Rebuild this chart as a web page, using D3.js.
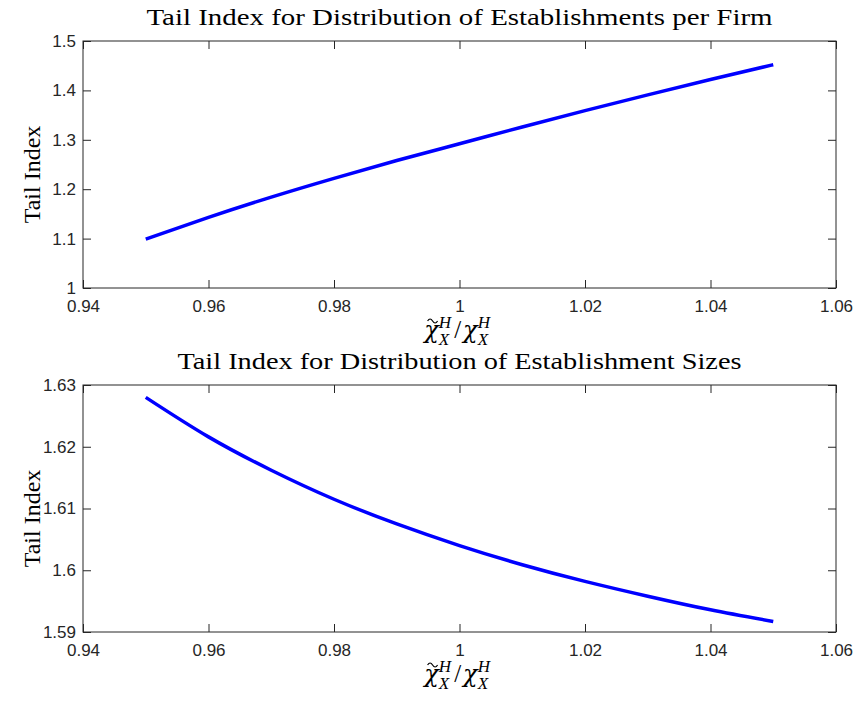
<!DOCTYPE html>
<html>
<head>
<meta charset="utf-8">
<script src="https://cdn.jsdelivr.net/npm/d3@7"></script>
<style>
  body { margin: 0; background: #fff; }
  svg { display: block; }
</style>
</head>
<body>
<svg id="chart"></svg>
<script>
(function() {

// ratio values on the x axis
const ratio = [0.95, 0.96, 0.97, 0.98, 0.99, 1.00, 1.01, 1.02, 1.03, 1.04, 1.05];

// tail index, establishments per firm
const tailFirm = [1.099, 1.143, 1.184, 1.222, 1.258, 1.292, 1.326, 1.359, 1.391, 1.422, 1.452];

// tail index, establishment sizes
const tailSize = [1.6280, 1.6216, 1.6162, 1.6115, 1.6075, 1.6040, 1.6009, 1.5982, 1.5958, 1.5936, 1.5917];

const xTicks = [0.94, 0.96, 0.98, 1, 1.02, 1.04, 1.06];
const yTicksFirm = [1, 1.1, 1.2, 1.3, 1.4, 1.5];
const yTicksSize = [1.59, 1.6, 1.61, 1.62, 1.63];

const titles = [
    "Tail Index for Distribution of Establishments per Firm",
    "Tail Index for Distribution of Establishment Sizes"
];

const W = 857, H = 701;
const axisColor = "#262626";
const serif = "'Liberation Serif', 'DejaVu Serif', serif";
const greek = "'DejaVu Serif', serif";
const sans = "'Liberation Sans', Arial, Helvetica, sans-serif";

const svg = d3.select("#chart")
    .attr("width", W)
    .attr("height", H);

const left = 83, right = 836;

const panels = [
    { top: 41, bottom: 288, values: tailFirm, yDomain: [1, 1.5], yTicks: yTicksFirm, title: titles[0], titleW: 626 },
    { top: 385, bottom: 632, values: tailSize, yDomain: [1.59, 1.63], yTicks: yTicksSize, title: titles[1], titleW: 564 }
];

const x = d3.scaleLinear().domain([0.94, 1.06]).range([left, right]);

panels.forEach(p => drawPanel(p));

function drawPanel(p) {
    const y = d3.scaleLinear().domain(p.yDomain).range([p.bottom, p.top]);
    const g = svg.append("g");

    const fmt = d => String(d);

    // bottom axis with labels
    const gxb = g.append("g")
        .attr("transform", `translate(0,${p.bottom})`)
        .call(d3.axisBottom(x).tickValues(xTicks).tickFormat(fmt).tickSizeInner(-8).tickSizeOuter(0).tickPadding(12));
    // top mirror ticks
    const gxt = g.append("g")
        .attr("transform", `translate(0,${p.top})`)
        .call(d3.axisTop(x).tickValues(xTicks).tickFormat("").tickSizeInner(-8).tickSizeOuter(0));
    // left axis with labels
    const gyl = g.append("g")
        .attr("transform", `translate(${left},0)`)
        .call(d3.axisLeft(y).tickValues(p.yTicks).tickFormat(fmt).tickSizeInner(-8).tickSizeOuter(0).tickPadding(7));
    // right mirror ticks
    const gyr = g.append("g")
        .attr("transform", `translate(${right},0)`)
        .call(d3.axisRight(y).tickValues(p.yTicks).tickFormat("").tickSizeInner(-8).tickSizeOuter(0));

    [gxb, gxt, gyl, gyr].forEach(a => {
        a.attr("font-size", null).attr("font-family", null);
        a.select(".domain").remove();
        a.selectAll(".tick line").attr("stroke", axisColor).attr("stroke-width", 1);
        a.selectAll(".tick text")
            .attr("fill", axisColor)
            .style("font-family", sans)
            .style("font-size", "17px");
    });

    // box
    g.append("rect")
        .attr("x", left).attr("y", p.top)
        .attr("width", right - left).attr("height", p.bottom - p.top)
        .attr("fill", "none")
        .attr("stroke", axisColor)
        .attr("stroke-width", 1);

    // curve
    const line = d3.line()
        .x((d, i) => x(ratio[i]))
        .y(d => y(d))
        .curve(d3.curveNatural);

    g.append("path")
        .datum(p.values)
        .attr("d", line)
        .attr("fill", "none")
        .attr("stroke", "#0000ff")
        .attr("stroke-width", 3.5);

    // title
    g.append("text")
        .attr("x", (left + right) / 2)
        .attr("y", p.top - 16)
        .attr("text-anchor", "middle")
        .attr("font-family", serif)
        .attr("font-size", 24)
        .attr("fill", "#000")
        .attr("textLength", p.titleW)
        .attr("lengthAdjust", "spacingAndGlyphs")
        .text(p.title);

    // y label
    g.append("text")
        .attr("transform", `translate(40,${(p.top + p.bottom) / 2 + 10}) rotate(-90)`)
        .attr("text-anchor", "middle")
        .attr("font-family", serif)
        .attr("font-size", 24)
        .attr("fill", "#000")
        .text("Tail Index");

    // x label: chi-tilde^H_X / chi^H_X
    drawXLabel(g, (left + right) / 2, p.bottom + 50);
}

function measure(str, size, family, style) {
    const t = svg.append("text")
        .attr("font-family", family)
        .attr("font-size", size)
        .attr("font-style", style)
        .text(str);
    const w = t.node().getComputedTextLength();
    t.remove();
    return w;
}

function drawXLabel(g, cx, baseline) {
    const chiW = measure("\u03C7", 24, greek, "italic");
    const hW = measure("H", 17, serif, "italic");
    const xW = measure("X", 17, serif, "italic");
    const slashW = measure("/", 25, serif, "normal");
    const back = xW;               // X set under H
    const extra = Math.max(hW, xW) - xW;
    const total = 2 * (chiW + hW + (xW - back) + extra + 1) + slashW + 4;

    const lab = g.append("g")
        .attr("transform", `translate(${cx - total / 2},${baseline})`);

    const t = lab.append("text")
        .attr("font-family", serif)
        .attr("font-style", "italic")
        .attr("fill", "#000");

    for (let k = 0; k < 2; k++) {
        t.append("tspan").attr("font-family", greek).attr("font-size", 24)
            .attr("dx", k ? 2 : 0).text("\u03C7");
        t.append("tspan").attr("font-size", 17).attr("dy", -10).text("H");
        t.append("tspan").attr("font-size", 17).attr("dy", 17).attr("dx", -hW).text("X");
        if (k === 0) {
            t.append("tspan").attr("font-size", 25).attr("font-style", "normal")
                .attr("dy", -7).attr("dx", extra + 3).text("/");
        }
    }

    // tilde accent over the first chi
    const tx = chiW / 2 + 1;
    lab.append("path")
        .attr("d", `M${tx - 5},-17 q2.5,-4 5,0 t5,0`)
        .attr("fill", "none")
        .attr("stroke", "#000")
        .attr("stroke-width", 1.2);
}

})();
</script>
</body>
</html>
